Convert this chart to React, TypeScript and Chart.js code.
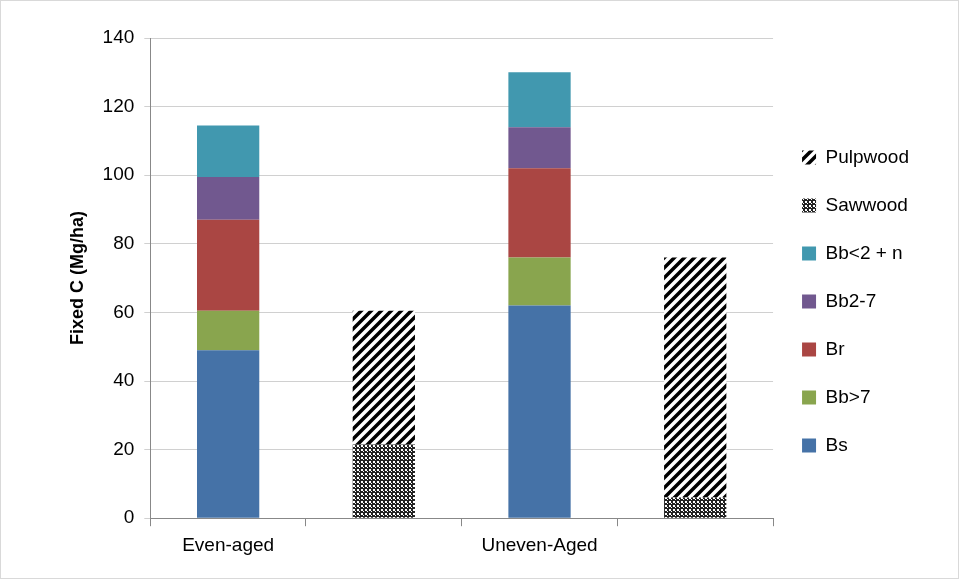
import React, { useEffect, useRef } from 'react';
import { Chart, registerables } from 'chart.js';

Chart.register(...registerables);

const categories = ['Even-aged', '', 'Uneven-Aged', ''];
const bs = [49, null, 62, null];
const bbOver7 = [11.5, null, 14, null];
const br = [26.5, null, 26, null];
const bb2to7 = [12.5, null, 12, null];
const bbUnder2 = [15, null, 16, null];
const sawwood = [null, 21.5, null, 6];
const pulpwood = [null, 39, null, 70];

function stripes(): CanvasPattern | string {
    const c = document.createElement('canvas');
    c.width = 10;
    c.height = 10;
    const g = c.getContext('2d');
    if (!g) return '#000';
    g.fillStyle = '#fff';
    g.fillRect(0, 0, 10, 10);
    g.strokeStyle = '#000';
    g.lineWidth = 3.5;
    g.beginPath();
    g.moveTo(-5, 5); g.lineTo(5, -5);
    g.moveTo(0, 10); g.lineTo(10, 0);
    g.moveTo(5, 15); g.lineTo(15, 5);
    g.stroke();
    return g.createPattern(c, 'repeat') || '#000';
}

function checks(): CanvasPattern | string {
    const c = document.createElement('canvas');
    c.width = 4;
    c.height = 4;
    const g = c.getContext('2d');
    if (!g) return '#555';
    g.fillStyle = '#222';
    g.fillRect(0, 0, 4, 4);
    g.fillStyle = '#fff';
    g.fillRect(0, 0, 2, 2);
    g.fillRect(2, 2, 1, 1);
    return g.createPattern(c, 'repeat') || '#555';
}

const App: React.FC = () => {
    const chartRef = useRef<HTMLCanvasElement | null>(null);

    useEffect(() => {
        document.body.style.margin = '0';
        if (!chartRef.current) return;
        const ctx = chartRef.current.getContext('2d');
        if (!ctx) return;
        const font = 'Liberation Sans, Arial, sans-serif';
        const ds = (label: string, data: (number | null)[], color: any) => ({
            label, data, backgroundColor: color, borderWidth: 0,
            barPercentage: 0.8, categoryPercentage: 0.5,
        });
        const chart = new Chart(ctx, {
            type: 'bar',
            data: {
                labels: categories,
                datasets: [
                    ds('Bs', bs, '#4572a7'),
                    ds('Bb>7', bbOver7, '#89a54e'),
                    ds('Br', br, '#aa4643'),
                    ds('Bb2-7', bb2to7, '#71588f'),
                    ds('Bb<2 + n', bbUnder2, '#4198af'),
                    ds('Sawwood', sawwood, checks()),
                    ds('Pulpwood', pulpwood, stripes()),
                ],
            },
            options: {
                animation: false,
                responsive: false,
                layout: { padding: { top: 37, right: 39, left: 62, bottom: 13 } },
                scales: {
                    x: {
                        stacked: true,
                        grid: { offset: true, drawOnChartArea: false, drawTicks: true, tickLength: 8, color: '#888' },
                        border: { color: '#888' },
                        ticks: { color: '#000', font: { family: font, size: 19 }, padding: 8 },
                    },
                    y: {
                        stacked: true,
                        min: 0,
                        max: 140,
                        ticks: { stepSize: 20, color: '#000', font: { family: font, size: 19 }, padding: 10 },
                        grid: { color: '#d0d0d0', tickLength: 6 },
                        border: { color: '#888' },
                        title: { display: true, text: 'Fixed C (Mg/ha)', color: '#000', font: { family: font, size: 18, weight: 'bold' } },
                    },
                },
                plugins: {
                    tooltip: { enabled: false },
                    legend: {
                        position: 'right',
                        reverse: true,
                        labels: {
                            color: '#000',
                            font: { family: font, size: 19 },
                            boxWidth: 14,
                            boxHeight: 14,
                            padding: 29,
                        },
                    },
                },
            },
        });
        return () => {
            chart.destroy();
        };
    }, []);

    return (
        <div style={{ width: 957, height: 577, border: '1px solid #d9d9d9' }}>
            <canvas ref={chartRef} width="957" height="577" />
        </div>
    );
};

export default App;
